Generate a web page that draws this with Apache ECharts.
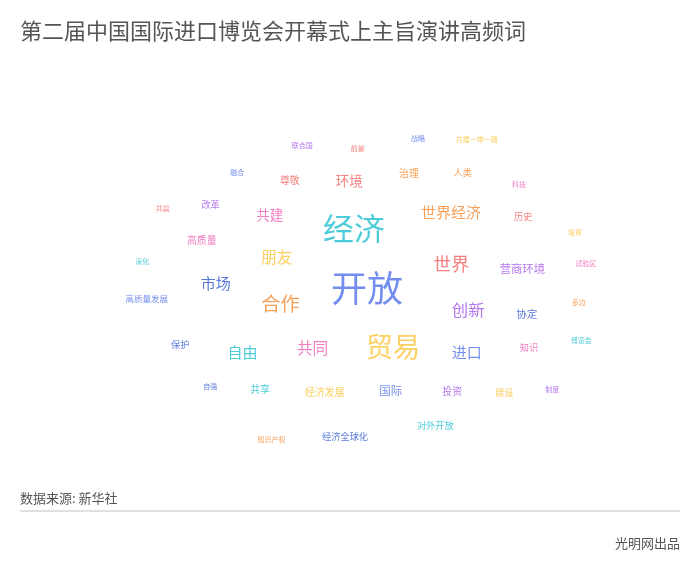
<html>
<head>
<meta charset="utf-8">
<script src="https://cdn.jsdelivr.net/npm/echarts@6/dist/echarts.min.js"></script>
<style>
  html, body, #main { width: 100%; height: 100%; margin: 0; background: #fff; }
</style>
</head>
<body>
<div id="main"></div>
<script type="text/javascript">
// 词和词频
var words = ['开放', '经济', '贸易', '合作', '世界', '创新', '共同', '朋友', '世界经济', '进口',
  '自由', '市场', '共建', '环境', '营商环境', '国际', '协定', '经济发展', '高质量', '治理',
  '投资', '尊敬', '共享', '历史', '知识', '保护', '改革', '人类', '对外开放', '建设',
  '经济全球化', '高质量发展', '融合', '前景', '自强', '科技', '多边', '培育', '深化', '联合国',
  '试验区', '战略', '博览会', '知识产权', '共建一带一路', '共赢', '制度'];
var values = [48, 41, 36, 25, 23, 21, 20, 20, 19, 19,
  19, 19, 17, 17, 14, 14, 13, 12, 12, 12,
  12, 12, 12, 11, 11, 11, 11, 11, 11, 11,
  11, 10, 8, 8, 8, 8, 8, 8, 8, 8,
  8, 8, 8, 8, 8, 8, 8];

// 颜色（样式单独放）
var palette = {
  y: '#fcc43b', t: '#1fbfcf', b: '#5072ea', d: '#2f56d4',
  r: '#f4625f', o: '#f7882f', p: '#ee5db3', u: '#a253ea'
};
var wordColors = ['b', 't', 'y', 'o', 'r', 'u', 'p', 'y', 'o', 'b',
  't', 'd', 'p', 'r', 'u', 'b', 'd', 'y', 'p', 'o',
  'u', 'r', 't', 'r', 'p', 'd', 'u', 'o', 't', 'y',
  'd', 'b', 'b', 'r', 'd', 'p', 'o', 'y', 't', 'u',
  'p', 'b', 't', 'o', 'y', 'r', 'u'];

var FONT = '"Noto Sans CJK SC", "Microsoft YaHei", sans-serif';
var sizeRange = [7, 36];

function fontSizeOf(v) {
  var min = Math.min.apply(null, values), max = Math.max.apply(null, values);
  return sizeRange[0] + (v - min) / (max - min) * (sizeRange[1] - sizeRange[0]);
}

// 简单的螺旋布局（没有词云插件，自己摆）
function layoutWords() {
  var cx = 367, cy = 288, ax = 1.5, ay = 1;
  var padX = 30, padY = 22;
  var box = { x0: 108, x1: 628, y0: 126, y1: 450 };
  var ctx = document.createElement('canvas').getContext('2d');
  var placed = [];
  var order = words.map(function (w, i) { return i; });
  order.sort(function (a, b) { return values[b] - values[a]; });

  var result = [];
  order.forEach(function (idx, k) {
    var size = fontSizeOf(values[idx]);
    ctx.font = size + 'px ' + FONT;
    var w = ctx.measureText(words[idx]).width;
    var h = size * 1.1;
    var start = k * 2.39996;
    for (var t = 0; t < 6000; t++) {
      var th = t * 0.1;
      var r = 2.2 * th;
      var x = cx + ax * r * Math.cos(th + start);
      var y = cy + ay * r * Math.sin(th + start);
      var rc = { x0: x - w / 2, x1: x + w / 2, y0: y - h / 2, y1: y + h / 2 };
      if (rc.x0 < box.x0 || rc.x1 > box.x1 || rc.y0 < box.y0 || rc.y1 > box.y1) continue;
      var hit = false;
      for (var j = 0; j < placed.length; j++) {
        var o = placed[j];
        if (rc.x0 < o.x1 + padX && rc.x1 > o.x0 - padX &&
            rc.y0 < o.y1 + padY && rc.y1 > o.y0 - padY) { hit = true; break; }
      }
      if (!hit) {
        placed.push(rc);
        result.push({
          name: words[idx],
          value: [x, y, values[idx]],
          label: { fontSize: Math.round(size * 10) / 10, color: palette[wordColors[idx]] }
        });
        break;
      }
    }
  });
  return result;
}

var chart = echarts.init(document.getElementById('main'));
var option = {
  backgroundColor: '#fff',
  title: {
    text: '第二届中国国际进口博览会开幕式上主旨演讲高频词',
    left: 20, top: 20, padding: 0,
    textStyle: { fontSize: 22, fontWeight: 'normal', color: '#555', fontFamily: FONT }
  },
  grid: { left: 0, right: 0, top: 0, bottom: 0 },
  xAxis: { type: 'value', min: 0, max: 700, show: false },
  yAxis: { type: 'value', min: 0, max: 576, inverse: true, show: false },
  series: [{
    type: 'scatter',
    symbolSize: 0,
    animation: false,
    label: {
      show: true,
      position: 'inside',
      formatter: '{b}',
      fontFamily: FONT
    },
    data: layoutWords()
  }],
  graphic: [
    { type: 'text', left: 20, top: 492,
      style: { text: '数据来源: 新华社', fontSize: 13, fill: '#555', fontFamily: FONT } },
    { type: 'rect', shape: { x: 20, y: 510, width: 660, height: 2 }, style: { fill: '#e0e0e0' } },
    { type: 'text', right: 20, top: 537,
      style: { text: '光明网出品', fontSize: 13, fill: '#555', fontFamily: FONT } }
  ]
};
chart.setOption(option);
window.onresize = chart.resize;
</script>
</body>
</html>
